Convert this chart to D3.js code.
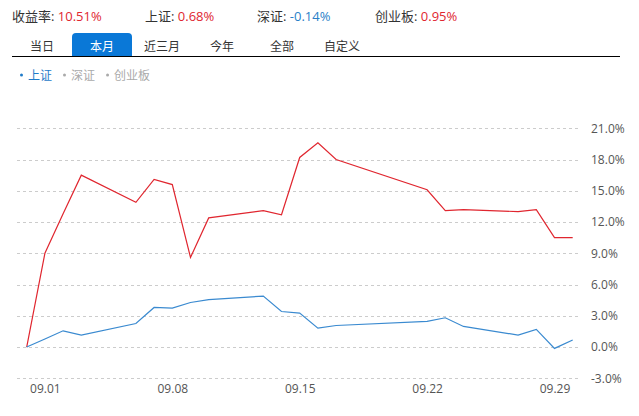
<!DOCTYPE html>
<html><head><meta charset="utf-8">
<script src="https://cdn.jsdelivr.net/npm/d3@7/dist/d3.min.js"></script>
<style>
body{margin:0;background:#fff;}
svg text{font-family:"Open Sans","Noto Sans CJK SC",sans-serif;}
</style></head>
<body><svg id="c" width="639" height="416"></svg>
<script>
const dates = ["08.31","09.01","09.02","09.03","09.06","09.07","09.08","09.09","09.10","09.13","09.14","09.15","09.16","09.17","09.22","09.23","09.24","09.27","09.28","09.29","09.30"];
const portfolio = [0,9.0,12.8,16.5,13.9,16.1,15.6,8.6,12.4,13.1,12.7,18.2,19.6,18.0,15.1,13.1,13.2,13.0,13.2,10.51,10.51];
const shIndex = [0,0.77,1.56,1.15,2.26,3.8,3.74,4.28,4.56,4.89,3.41,3.26,1.82,2.07,2.46,2.81,1.98,1.15,1.69,-0.13,0.68];
const yTicks = [-3,0,3,6,9,12,15,18,21];
const xTickLabels = ["09.01","09.08","09.15","09.22","09.29"];
const summary = [
  {label:"收益率: ", value:"10.51%", color:"#e0262f", x:12},
  {label:"上证: ", value:"0.68%", color:"#e0262f", x:145},
  {label:"深证: ", value:"-0.14%", color:"#2a7fc8", x:257},
  {label:"创业板: ", value:"0.95%", color:"#e0262f", x:375}
];
const tabs = ["当日","本月","近三月","今年","全部","自定义"];
const activeTab = "本月";
const legendItems = [{name:"上证",active:true},{name:"深证",active:false},{name:"创业板",active:false}];

const svg = d3.select("#c");
const parse = s => new Date(2021, +s.slice(0,2)-1, +s.slice(3));

// header
summary.forEach(s=>{
  const t = svg.append("text").attr("x", s.x).attr("y", 21).attr("font-size",13).attr("fill","#333");
  t.append("tspan").text(s.label);
  t.append("tspan").attr("fill", s.color).text(s.value);
});

// tabs
const tabScale = d3.scaleBand().domain(tabs).range([12, 372]);
tabs.forEach(t=>{
  const x0 = tabScale(t), w = tabScale.bandwidth();
  if (t === activeTab) {
    svg.append("path").attr("d", `M${x0},56 V37 Q${x0},33 ${x0+4},33 H${x0+w-4} Q${x0+w},33 ${x0+w},37 V56 Z`).attr("fill","#0a78d7");
  }
  svg.append("text").attr("x", x0 + w/2).attr("y", 50.5).attr("text-anchor","middle").attr("font-size",12)
    .attr("fill", t === activeTab ? "#fff" : "#333").text(t);
});
svg.append("line").attr("x1",12).attr("x2",620).attr("y1",56.5).attr("y2",56.5).attr("stroke","#000").attr("stroke-width",1);

// legend
let lx = 20;
legendItems.forEach(it=>{
  const col = it.active ? "#1f7bc9" : "#aaa";
  svg.append("circle").attr("cx", lx+1.5).attr("cy", 75).attr("r", 1.5).attr("fill", col);
  const t = svg.append("text").attr("x", lx+8).attr("y", 79.5).attr("font-size",12).attr("fill", col).text(it.name);
  lx += 8 + t.node().getComputedTextLength() + 11;
});

// scales
const x = d3.scaleTime().domain([parse("08.31"), parse("09.30")]).range([26.7, 572.7]);
const y = d3.scaleLinear().domain([-3, 21]).range([378.3, 128.3]);

// grid
svg.append("g").selectAll("line").data(yTicks).join("line")
  .attr("x1",17).attr("x2",580).attr("y1",d=>Math.round(y(d))+0.5).attr("y2",d=>Math.round(y(d))+0.5)
  .attr("stroke","#ccc").attr("stroke-dasharray","3,3");

// y axis labels
const yAxis = d3.axisRight(y).tickValues(yTicks).tickSize(0).tickPadding(0).tickFormat(d=>d.toFixed(1)+"%");
const gy = svg.append("g").attr("transform","translate(591,0)").call(yAxis);
gy.select(".domain").remove();
gy.selectAll("text").attr("font-size",12).attr("fill","#555").attr("font-family",'"Open Sans","Noto Sans CJK SC",sans-serif');

// x axis labels
const xAxis = d3.axisBottom(x).tickValues(xTickLabels.map(parse)).tickSize(0).tickPadding(0).tickFormat(d3.timeFormat("%m.%d"));
const gx = svg.append("g").attr("transform","translate(0,384)").call(xAxis);
gx.select(".domain").remove();
gx.selectAll("text").attr("font-size",12).attr("fill","#555").attr("font-family",'"Open Sans","Noto Sans CJK SC",sans-serif');

// lines
const line = d3.line().x((d,i)=>x(parse(dates[i]))).y(d=>y(d));
svg.append("path").datum(portfolio).attr("d", line).attr("fill","none").attr("stroke","#e0262f").attr("stroke-width",1.2);
svg.append("path").datum(shIndex).attr("d", line).attr("fill","none").attr("stroke","#3a8ad0").attr("stroke-width",1.2);
</script></body></html>
